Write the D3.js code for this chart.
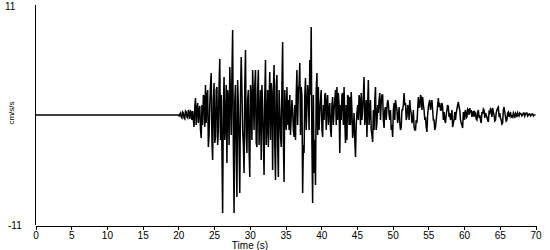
<!DOCTYPE html>
<html>
<head>
<meta charset="utf-8">
<script src="https://cdn.jsdelivr.net/npm/d3@7"></script>
<style>
  html, body { margin: 0; padding: 0; background: #fff; }
  svg { display: block; font-family: "Liberation Sans", Arial, sans-serif; }
</style>
</head>
<body>
<svg id="chart" width="550" height="250"></svg>
<script>
// ---- data ----
const xTicks = [0, 5, 10, 15, 20, 25, 30, 35, 40, 45, 50, 55, 60, 65, 70];
const yTickLabels = [11, -11];
const xDomain = [0, 70];
const yDomain = [-11, 11];
const xTitle = "Time (s)";
const yTitle = "cm/s/s";

// quiet pre-event part (time, value)
const quietTimes = [0, 20];
const quietValues = [0, 0];

// record from 20 s: values at 20.0, 20.2, 20.4 ... 70.0
const recordStart = 20;
const recordStep = 0.2;
const recordValues = [
  0, 0.1, -0.2, 0.3, -0.3, 0.4, -0.2, 0.5, -0.4, 0.3,
  0.4, -1.2, 1.7, 0.6, -0.8, 0.9, -2.3, -1.0, 1.8, 3.0,
  2.0, -3.2, 1.0, 4.2, -4.5, 3.2, -2.2, 2.8, -1.5, 5.6,
  2.0, -9.8, 3.8, -1.0, -4.8, 1.5, 4.8, -2.0, 8.5, -9.8,
  3.0, -8.2, 1.0, -7.8, 5.8, -1.5, -5.8, 6.5, -3.8, 2.5,
  -6.2, 2.0, 4.5, -1.5, 4.5, -3.2, 4.5, -0.5, -4.5, 1.0,
  -6.0, 5.5, -1.0, -3.2, 4.3, 3.2, -5.5, 5.0, -6.5, 4.0,
  -6.2, 0.5, -3.2, 7.3, -6.7, 0.5, 2.8, 1.5, 2.0, -0.2,
  0.5, -2.2, -2.5, 4.5, 2.5, 5.2, 2.8, -7.8, -3.8, 3.7,
  0.8, 2.0, 5.5, 8.8, -8.8, -5.8, -7.0, 4.2, 2.8, 0.2,
  2.5, -2.2, -0.5, 2.2, 1.2, -1.0, 1.2, -2.2, 1.8, 0.5,
  2.5, 2.8, 2.2, -3.8, -0.5, 2.2, 2.8, -2.8, -2.5, 1.8,
  1.8, 2.3, -2.3, 0.2, -4.2, 0.2, -0.5, 1.5, 2.2, 0.5,
  3.8, 0.2, -2.2, 3.5, 0.2, -1.5, -2.7, -1.5, 2.8, -0.8,
  0.2, 2.2, 1.2, 2.0, -1.3, 0.8, 0.7, 1.2, -0.5, -1.5,
  -2.2, 1.2, 1.5, 0.5, -0.2, -0.8, -1.2, 0.5, 2.2, 1.2,
  -0.2, 0.8, 1.5, 0.2, -0.5, -1.2, -1.5, -0.8, 1.8, 0.8,
  1.8, 1.8, 0.5, -0.2, -1.7, 0.8, 1.5, 1.0, 0.5, -0.5,
  -1.2, 0.2, 1.7, 1.2, 0.5, 0.8, 0.3, -0.8, 0.5, 0.8,
  0.2, -0.2, -1.2, -0.5, -0.5, 0.6, 1.3, 0.5, -0.8, -1.3,
  -0.5, 0.5, -0.2, 0.5, 0.7, 0.5, 0.2, -0.2, 0.2, -0.5,
  0.5, 0.0, -0.8, 0.1, 0.5, 0.2, -0.2, -0.7, 0.2, 0.5,
  0.7, 0.0, -0.5, 0.5, 0.8, 0.2, -0.5, -0.8, 0.8, -0.2,
  -0.5, 0.3, 0.0, -0.2, -0.2, 0.0, 0.2, -0.2, 0.0, 0.2,
  0.1, 0.0, 0.2, 0.1, 0.2, 0.0, 0.1, 0.0, 0.1, 0.0, 0.0
];

// in-between readings: values at 20.1, 20.3, 20.5 ... 69.9
const recordMidValues = [
  -0.1, 0.2, -0.3, 0.2, -0.4, 0.3, -0.3, 0.2, 0.4, -0.5,
  -0.5, 0.8, -1.0, 1.2, 0.5, -1.5, 1.0, 2.0, -1.2, -0.8,
  2.5, -2.0, 3.0, -2.5, 1.5, -2.8, 2.5, -3.0, 3.0, -2.5,
  -3.5, 1.0, -2.5, 3.0, 2.5, -3.0, 2.0, 4.0, -3.0, 1.5,
  -3.5, 3.5, -3.0, 2.0, 2.5, -3.0, 3.0, -2.0, 1.5, -3.5,
  3.0, -2.5, 2.0, 3.0, -2.8, 2.5, -3.0, 2.5, 3.0, -2.5,
  2.0, -3.0, 2.5, 1.5, -2.5, 2.0, 2.5, -3.0, 3.0, -3.0,
  2.5, -2.0, 3.0, -2.5, 2.5, -1.5, -1.0, -1.5, -2.0, 1.5,
  -1.5, 1.0, 2.0, -1.0, 3.0, -2.0, 2.0, -3.0, 2.0, -1.5,
  3.0, -1.5, 2.0, -3.0, 2.0, -2.5, 2.5, -2.0, -1.5, 1.5,
  -1.5, 1.0, 2.0, -1.5, 2.0, 0.5, -1.5, 1.0, -1.0, 1.5,
  -1.0, -0.5, 1.0, 1.0, 2.0, -1.0, -0.5, 1.0, 2.0, -1.0,
  -1.0, 0.5, -1.5, -2.5, -1.0, 1.0, 2.0, -1.0, -0.5, 2.0,
  -1.0, 1.5, 1.0, -1.0, 1.5, -2.0, 0.5, 1.5, -1.5, 1.0,
  1.5, -0.5, 2.0, -0.5, 0.5, -0.5, 1.5, 0.0, 0.5, -1.0,
  0.5, -0.5, 1.0, -0.8, 0.8, -1.5, 0.5, 1.0, 1.0, -0.5,
  1.0, -0.5, 0.5, -0.8, 0.5, -1.5, -0.5, 0.5, 0.8, 2.0,
  0.5, 1.0, -0.5, -1.2, 0.0, 1.2, 0.5, 1.5, -0.5, -1.5,
  -0.5, 1.0, 0.8, 0.5, 1.2, -0.5, -0.5, 0.0, 1.0, -0.2,
  -0.5, 0.5, -0.8, 0.3, 0.2, 1.0, 0.8, -0.5, -1.0, 0.3,
  0.2, -0.3, 0.6, 0.0, 0.2, -0.2, 0.4, 0.3, -0.4, 0.3,
  -0.3, -0.5, 0.3, 0.6, -0.3, 0.0, -0.5, 0.3, 0.6, -0.2,
  0.3, -0.6, 0.2, 0.7, -0.2, -0.3, -0.9, 0.5, 0.3, -0.6,
  0.2, -0.2, 0.3, -0.1, 0.2, -0.3, 0.1, 0.2, -0.1, 0.1,
  -0.1, 0.2, -0.1, 0.2, -0.1, 0.1, -0.1, 0.1, -0.1, 0.0
];

// ---- build points in time order ----
const points = quietTimes.map((t, i) => [t, quietValues[i]]);
recordValues.forEach((v, i) => {
  points.push([recordStart + i * recordStep, v]);
  if (i < recordMidValues.length) {
    points.push([recordStart + (i + 0.5) * recordStep, recordMidValues[i]]);
  }
});

// ---- layout ----
const svg = d3.select("#chart");
const x = d3.scaleLinear().domain(xDomain).range([35.5, 535.5]);
const y = d3.scaleLinear().domain(yDomain).range([225, 5]);

// trace
svg.append("path")
  .datum(points)
  .attr("fill", "none")
  .attr("stroke", "#000")
  .attr("stroke-width", 1.5)
  .attr("stroke-linejoin", "miter")
  .attr("d", d3.line().x(d => x(d[0])).y(d => y(d[1])));

// x axis
const xAxis = svg.append("g")
  .attr("transform", `translate(0,${y(yDomain[0]) + 0.5})`)
  .call(d3.axisBottom(x).tickValues(xTicks).tickSize(4).tickSizeOuter(0).tickFormat(d3.format("d")));
xAxis.select(".domain").attr("stroke", "#000").attr("shape-rendering", "crispEdges");
xAxis.selectAll(".tick line").attr("stroke", "#000").attr("shape-rendering", "crispEdges");
xAxis.selectAll(".tick text")
  .attr("y", 6)
  .attr("font-size", 10)
  .attr("font-family", "Liberation Sans, Arial, sans-serif")
  .attr("fill", "#000");

// y axis line
svg.append("line")
  .attr("x1", x(xDomain[0])).attr("x2", x(xDomain[0]))
  .attr("y1", y(yDomain[1])).attr("y2", y(yDomain[0]))
  .attr("stroke", "#000")
  .attr("shape-rendering", "crispEdges");

// y tick labels (no tick marks)
svg.selectAll(".ylab")
  .data(yTickLabels)
  .enter().append("text")
  .attr("class", "ylab")
  .attr("x", d => d > 0 ? 5 : 8)
  .attr("y", d => y(d) + (d > 0 ? 1 : 0))
  .attr("dy", "0.35em")
  .attr("font-size", 10)
  .attr("fill", "#000")
  .text(d => d);

// axis titles
svg.append("text")
  .attr("x", 250)
  .attr("y", 249)
  .attr("text-anchor", "middle")
  .attr("font-size", 10)
  .attr("fill", "#000")
  .text(xTitle);

svg.append("text")
  .attr("transform", "translate(14,113) rotate(-90)")
  .attr("text-anchor", "middle")
  .attr("font-size", 8)
  .attr("fill", "#000")
  .text(yTitle);
</script>
</body>
</html>
